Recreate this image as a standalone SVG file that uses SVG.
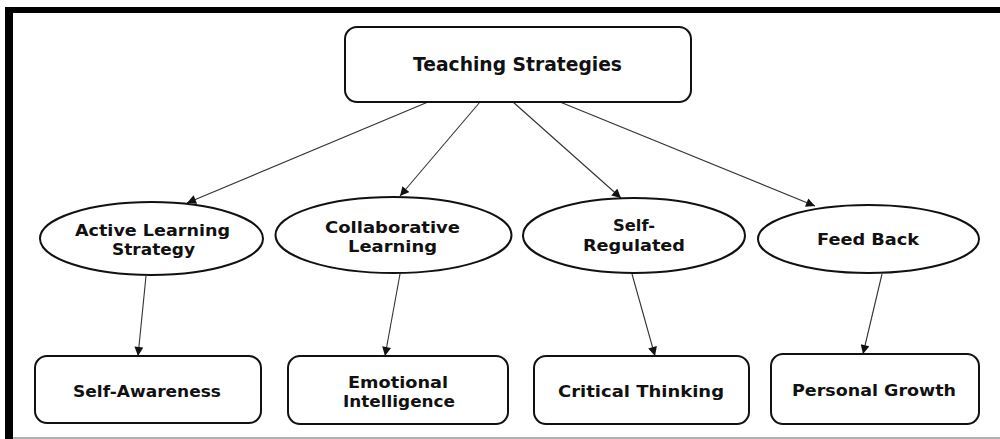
<svg xmlns="http://www.w3.org/2000/svg" width="1000" height="439" viewBox="0 0 1000 439">
  <style>
    .box { fill: #ffffff; stroke: #111111; stroke-width: 2; }
    .oval { fill: #ffffff; stroke: #111111; stroke-width: 2; }
    .lbl { font-family: "DejaVu Sans", "Liberation Sans", sans-serif; font-weight: bold; font-size: 16px; fill: #111111; text-anchor: middle; }
    .title { font-size: 19px; }
    .edge { stroke: #333333; stroke-width: 1.1; fill: none; marker-end: url(#head); }
  </style>
  <defs>
    <marker id="head" viewBox="0 0 10 10" refX="10" refY="5" markerWidth="10" markerHeight="9" markerUnits="userSpaceOnUse" orient="auto">
      <path d="M0,0 L10,5 L0,10 z" fill="#111111"/>
    </marker>
  </defs>

  <!-- page background and frame -->
  <rect x="0" y="0" width="1000" height="439" fill="#ffffff"/>
  <rect x="5" y="7" width="995" height="6" fill="#000000"/>
  <rect x="5" y="7" width="8" height="432" fill="#000000"/>
  <line x1="13" y1="438" x2="1000" y2="438" stroke="#999999" stroke-width="1.5"/>

  <!-- connectors -->
  <g id="connectors">
    <line class="edge" x1="428" y1="102" x2="187" y2="203"/>
    <line class="edge" x1="480" y1="102" x2="400" y2="196"/>
    <line class="edge" x1="513" y1="102" x2="621" y2="198"/>
    <line class="edge" x1="560" y1="102" x2="815" y2="206"/>
    <line class="edge" x1="146" y1="276" x2="138" y2="356"/>
    <line class="edge" x1="400" y1="274" x2="385" y2="356"/>
    <line class="edge" x1="632" y1="274" x2="655" y2="356"/>
    <line class="edge" x1="882" y1="274" x2="863" y2="354"/>
  </g>

  <!-- root -->
  <g id="teaching-strategies">
    <rect class="box" x="345" y="27" width="346" height="75" rx="12"/>
    <text class="lbl title" x="517.5" y="71" textLength="209" lengthAdjust="spacingAndGlyphs">Teaching Strategies</text>
  </g>

  <!-- strategies -->
  <g id="active-learning">
    <ellipse class="oval" cx="151.5" cy="238.5" rx="111.5" ry="36.5"/>
    <text class="lbl" x="152.5" y="236" textLength="155" lengthAdjust="spacingAndGlyphs">Active Learning</text>
    <text class="lbl" x="153.5" y="255" textLength="83" lengthAdjust="spacingAndGlyphs">Strategy</text>
  </g>
  <g id="collaborative-learning">
    <ellipse class="oval" cx="393.5" cy="235" rx="118" ry="38"/>
    <text class="lbl" x="392.5" y="232.5" textLength="135" lengthAdjust="spacingAndGlyphs">Collaborative</text>
    <text class="lbl" x="392.5" y="251.5" textLength="89" lengthAdjust="spacingAndGlyphs">Learning</text>
  </g>
  <g id="self-regulated">
    <ellipse class="oval" cx="634" cy="235.5" rx="111" ry="37.5"/>
    <text class="lbl" x="634" y="230.5" textLength="42" lengthAdjust="spacingAndGlyphs">Self-</text>
    <text class="lbl" x="634" y="251" textLength="102" lengthAdjust="spacingAndGlyphs">Regulated</text>
  </g>
  <g id="feed-back">
    <ellipse class="oval" cx="868.5" cy="239" rx="110.5" ry="34"/>
    <text class="lbl" x="868" y="244.5" textLength="102" lengthAdjust="spacingAndGlyphs">Feed Back</text>
  </g>

  <!-- outcomes -->
  <g id="self-awareness">
    <rect class="box" x="35" y="356" width="226" height="67" rx="12"/>
    <text class="lbl" x="147" y="397" textLength="148" lengthAdjust="spacingAndGlyphs">Self-Awareness</text>
  </g>
  <g id="emotional-intelligence">
    <rect class="box" x="288" y="356" width="220" height="68" rx="12"/>
    <text class="lbl" x="398" y="387.5" textLength="100" lengthAdjust="spacingAndGlyphs">Emotional</text>
    <text class="lbl" x="399" y="406.5" textLength="112" lengthAdjust="spacingAndGlyphs">Intelligence</text>
  </g>
  <g id="critical-thinking">
    <rect class="box" x="534" y="356" width="215" height="68" rx="12"/>
    <text class="lbl" x="641" y="397" textLength="166" lengthAdjust="spacingAndGlyphs">Critical Thinking</text>
  </g>
  <g id="personal-growth">
    <rect class="box" x="771" y="354" width="208" height="70" rx="12"/>
    <text class="lbl" x="874" y="396" textLength="164" lengthAdjust="spacingAndGlyphs">Personal Growth</text>
  </g>
</svg>
